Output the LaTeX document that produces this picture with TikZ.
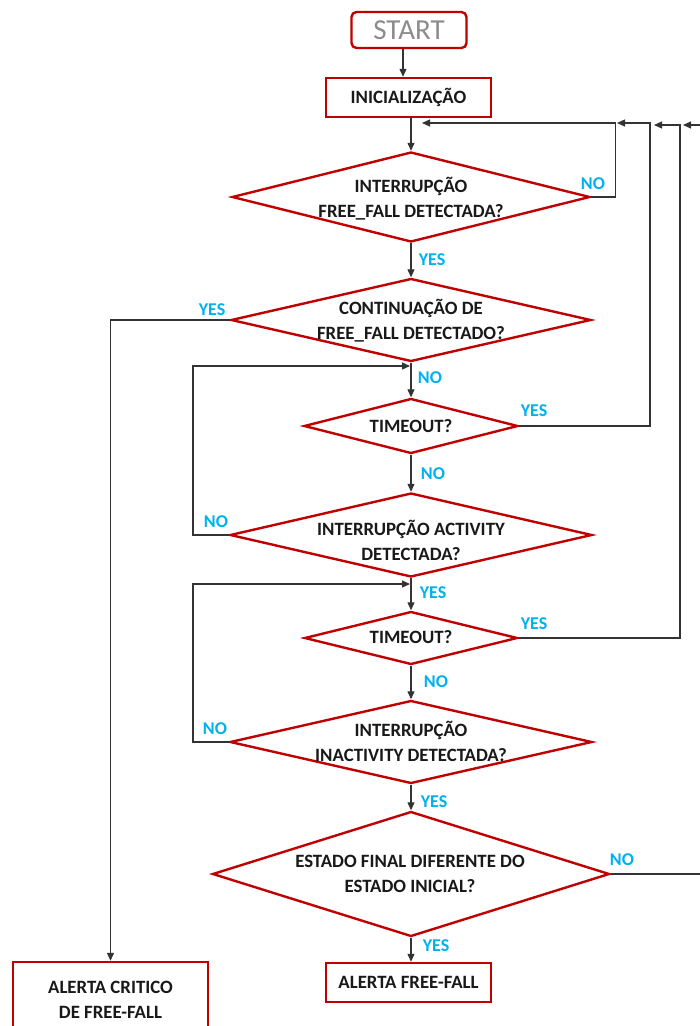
\documentclass[tikz,border=0pt]{standalone}
\usepackage{fontspec}
\setmainfont{Carlito}
\usetikzlibrary{shapes.geometric,arrows.meta,calc}
\definecolor{bred}{HTML}{C00000}
\definecolor{lblue}{HTML}{00B0F0}
\begin{document}
\begin{tikzpicture}[x=1pt,y=-1pt,
  proc/.style={draw=bred,line width=2.4pt,inner sep=0pt,fill=white,
    font=\bfseries\fontsize{18.8}{25}\selectfont,align=center,text=black!90},
  dia/.style={diamond,draw=bred,line width=2.4pt,inner sep=0pt},
  txt/.style={font=\bfseries\fontsize{18.8}{25}\selectfont,align=center,text=black!90,inner sep=0pt},
  lab/.style={font=\bfseries\fontsize{18}{20}\selectfont,text=lblue,inner sep=0pt},
  conn/.style={draw=black!80,line width=1.2pt},
  arr/.style={conn,-{Triangle[length=8pt,width=7pt]}}]
\useasboundingbox (0,0) rectangle (700,1026);
\clip (0,0) rectangle (700,1026);
\fill[white] (0,0) rectangle (700,1026);
% nodes
\node[proc,rounded corners=5pt,minimum width=115pt,minimum height=36pt,
  font=\fontsize{29}{32}\selectfont,text=black!45] (start) at (409,30) {START};
\node[proc,minimum width=165pt,minimum height=39pt] (inic) at (408.5,97.5) {INICIALIZAÇÃO};
\node[dia,minimum width=358pt,minimum height=90pt] (d1) at (411,197) {};
\node[txt] (t1) at (411,199) {INTERRUPÇÃO\\FREE\_FALL DETECTADA?};
\node[dia,minimum width=360pt,minimum height=83pt] (d2) at (411,320) {};
\node[txt] (t2) at (411,321) {CONTINUAÇÃO DE\\FREE\_FALL DETECTADO?};
\node[dia,minimum width=214pt,minimum height=55pt] (d3) at (411,426) {};
\node[txt] (t3) at (411,426) {TIMEOUT?};
\node[dia,minimum width=362pt,minimum height=84pt] (d4) at (411,535) {};
\node[txt] (t4) at (411,540) {INTERRUPÇÃO ACTIVITY\\DETECTADA?};
\node[dia,minimum width=213pt,minimum height=53pt] (d5) at (411,638) {};
\node[txt] (t5) at (411,637) {TIMEOUT?};
\node[dia,minimum width=362pt,minimum height=83pt] (d6) at (411,742) {};
\node[txt] (t6) at (411,741) {INTERRUPÇÃO\\INACTIVITY DETECTADA?};
\node[dia,minimum width=397pt,minimum height=125pt] (d7) at (411,874) {};
\node[txt] (t7) at (410,874) {ESTADO FINAL DIFERENTE DO\\ESTADO INICIAL?};
\node[proc,minimum width=165pt,minimum height=39pt] (alerta) at (408.5,982.5) {ALERTA FREE-FALL};
\node[proc,minimum width=195pt,minimum height=76pt] (crit) at (110.5,1000) {ALERTA CRITICO\\DE FREE-FALL};
% coordinates
\coordinate (m1) at (422,123);
\coordinate (c2) at (650,123);
\coordinate (m2) at (617,123);
\coordinate (c3) at (680,125);
\coordinate (m3) at (654,125);
\coordinate (c4) at (712,125);
\coordinate (m4) at (683,125);
\coordinate (c5) at (193,366);
\coordinate (m5) at (410,366);
\coordinate (c6) at (193,584);
\coordinate (m6) at (410,584);
% connectors
\draw[arr] ([xshift=-6pt]start.south) -- ([xshift=-5.5pt]inic.north);
\draw[arr] (d1.north |- inic.south) -- (d1.north);
\draw[arr] (d1.south) -- (d2.north);
\draw[arr] (d1.east) -- ++(24,0) |- (m1);
\draw[arr] (d2.west) -| (crit.north);
\draw[arr] (d2.south) -- (d3.north);
\draw[arr] (d3.east) -| (c2) -- (m2);
\draw[arr] (d3.south) -- (d4.north);
\draw[arr] (d4.west) -| (c5) -- (m5);
\draw[arr] (d4.south) -- (d5.north);
\draw[arr] (d5.east) -| (c3) -- (m3);
\draw[arr] (d5.south) -- (d6.north);
\draw[arr] (d6.west) -| (c6) -- (m6);
\draw[arr] (d6.south) -- (d7.north);
\draw[arr] (d7.east) -| (c4) -- (m4);
\draw[arr] (d7.south) -- (d7.south |- alerta.north);
% labels
\node[lab] (l1) at (432,260) {YES};
\node[lab] (l2) at (593,184) {NO};
\node[lab] (l3) at (212,310) {YES};
\node[lab] (l4) at (430,378) {NO};
\node[lab] (l5) at (534,411) {YES};
\node[lab] (l6) at (433,474) {NO};
\node[lab] (l7) at (216,522) {NO};
\node[lab] (l8) at (433,593) {YES};
\node[lab] (l9) at (534,624) {YES};
\node[lab] (l10) at (436,682) {NO};
\node[lab] (l11) at (215,729) {NO};
\node[lab] (l12) at (434,802) {YES};
\node[lab] (l13) at (622,860) {NO};
\node[lab] (l14) at (436,946) {YES};
\end{tikzpicture}
\end{document}
